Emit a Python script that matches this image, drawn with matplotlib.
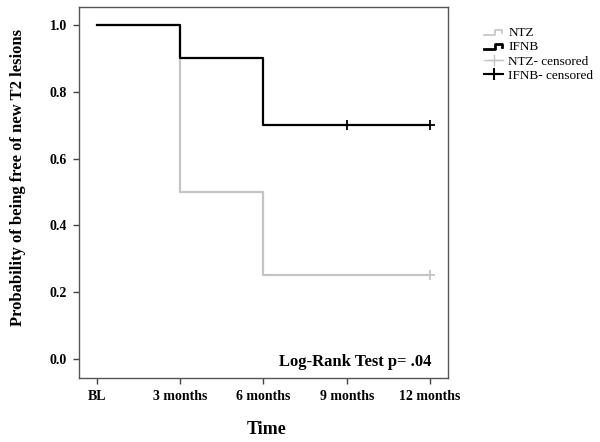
import numpy as np
import matplotlib
matplotlib.use("Agg")
import matplotlib.pyplot as plt
from matplotlib.lines import Line2D
from matplotlib.legend_handler import HandlerBase

plt.rcParams['font.family'] = ['Liberation Serif', 'DejaVu Serif']

# Data
time_ticks = [0, 3, 6, 9, 12]
tick_labels = ["BL", "3 months", "6 months", "9 months", "12 months"]
y_ticks = [0.0, 0.2, 0.4, 0.6, 0.8, 1.0]

ntz_t = [0, 3, 6, 12]
ntz_s = [1.0, 0.5, 0.25, 0.25]
ntz_cens_t = [12]
ntz_cens_s = [0.25]

ifnb_t = [0, 3, 6, 12]
ifnb_s = [1.0, 0.9, 0.7, 0.7]
ifnb_cens_t = [9, 12]
ifnb_cens_s = [0.7, 0.7]

annot = "Log-Rank Test p= .04"
legend_labels = ["NTZ", "IFNB", "NTZ- censored", "IFNB- censored"]

GRAY = "#c4c4c4"
BLACK = "#000000"

fig = plt.figure(figsize=(6, 4.42), dpi=100)
W, H = 600, 442
ax = fig.add_axes([79 / W, 1 - 378 / H, (448 - 79) / W, (378 - 7) / H])

ax.step(ntz_t, ntz_s, where='post', color=GRAY, lw=1.6)
ax.step(ifnb_t, ifnb_s, where='post', color=BLACK, lw=1.6)
ax.plot(ntz_cens_t, ntz_cens_s, ls='none', marker='+', color=GRAY, ms=7, mew=1.3)
ax.plot(ifnb_cens_t, ifnb_cens_s, ls='none', marker='+', color=BLACK, ms=7, mew=1.3)

ax.set_xlim(-0.65, 12.65)
ax.set_ylim(-0.057, 1.054)
ax.set_xticks(time_ticks)
ax.set_xticklabels(tick_labels, fontsize=10, fontweight='bold')
ax.set_yticks(y_ticks)
ax.set_yticklabels([f"{v:.1f}" for v in y_ticks], fontsize=10, fontweight='bold')
ax.tick_params(axis='both', direction='out', length=4.5, width=1, color='#444444', pad=4)
for s in ax.spines.values():
    s.set_color('#555555')
    s.set_linewidth(1.0)

ax.text(12.05, -0.008, annot, ha='right', va='center', fontsize=12, fontweight='bold')

fig.text(267 / W, 1 - 430 / H, "Time", ha='center', va='center', fontsize=13, fontweight='bold')
fig.text(18 / W, 1 - 177 / H, "Probability of being free of new T2 lesions", rotation=90,
         ha='center', va='center', fontsize=12, fontweight='bold')


class HandlerStep(HandlerBase):
    def create_artists(self, legend, orig_handle, xdescent, ydescent, width, height, fontsize, trans):
        xs = np.array([0.0, 0.55, 0.55, 0.95, 0.95]) * width - xdescent
        ys = np.array([0.15, 0.15, 0.7, 0.7, 0.4]) * height - ydescent
        l = Line2D(xs, ys, color=orig_handle.get_color(), lw=orig_handle.get_linewidth())
        l.set_transform(trans)
        return [l]


h_ntz = Line2D([], [], color=GRAY, lw=1.2)
h_ifnb = Line2D([], [], color=BLACK, lw=2.0)
h_ntzc = Line2D([], [], color=GRAY, lw=1.0, marker='+', ms=9, mew=1.0)
h_ifnbc = Line2D([], [], color=BLACK, lw=1.5, marker='+', ms=9, mew=1.5)
fig.legend([h_ntz, h_ifnb, h_ntzc, h_ifnbc], legend_labels,
           handler_map={h_ntz: HandlerStep(), h_ifnb: HandlerStep()},
           loc='upper left', bbox_to_anchor=(484 / W, 1 - 27 / H),
           frameon=False, fontsize=9.5, handlelength=1.45, handletextpad=0.4,
           labelspacing=0.15, borderpad=0, borderaxespad=0)

fig.savefig("out.png", dpi=100)
